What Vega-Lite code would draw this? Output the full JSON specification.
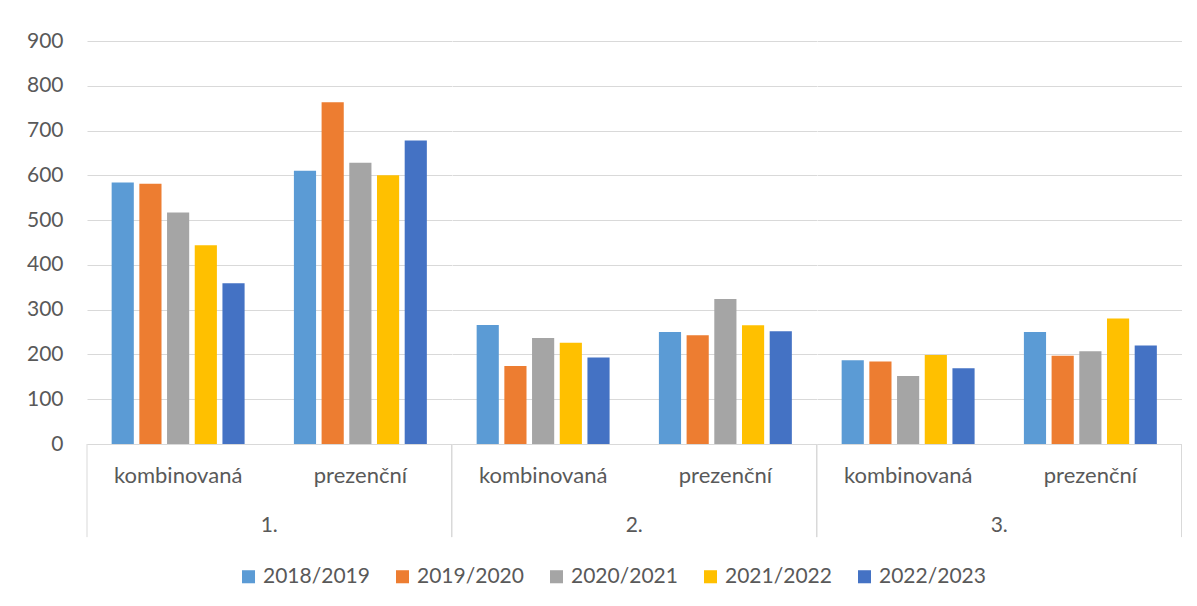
{
  "$schema": "https://vega.github.io/schema/vega-lite/v6.json",
  "background": "white",
  "autosize": {"type": "pad"},
  "padding": {"left": 26, "top": 30, "right": 5, "bottom": 5},
  "bounds": "flush",
  "data": {"values": [
    {"rocnik": "1.", "forma": "kombinovaná", "rok": "2018/2019", "pocet": 584},
    {"rocnik": "1.", "forma": "kombinovaná", "rok": "2019/2020", "pocet": 581},
    {"rocnik": "1.", "forma": "kombinovaná", "rok": "2020/2021", "pocet": 517},
    {"rocnik": "1.", "forma": "kombinovaná", "rok": "2021/2022", "pocet": 444},
    {"rocnik": "1.", "forma": "kombinovaná", "rok": "2022/2023", "pocet": 359},
    {"rocnik": "1.", "forma": "prezenční", "rok": "2018/2019", "pocet": 610},
    {"rocnik": "1.", "forma": "prezenční", "rok": "2019/2020", "pocet": 763},
    {"rocnik": "1.", "forma": "prezenční", "rok": "2020/2021", "pocet": 628},
    {"rocnik": "1.", "forma": "prezenční", "rok": "2021/2022", "pocet": 600},
    {"rocnik": "1.", "forma": "prezenční", "rok": "2022/2023", "pocet": 678},
    {"rocnik": "2.", "forma": "kombinovaná", "rok": "2018/2019", "pocet": 266},
    {"rocnik": "2.", "forma": "kombinovaná", "rok": "2019/2020", "pocet": 174},
    {"rocnik": "2.", "forma": "kombinovaná", "rok": "2020/2021", "pocet": 237},
    {"rocnik": "2.", "forma": "kombinovaná", "rok": "2021/2022", "pocet": 226},
    {"rocnik": "2.", "forma": "kombinovaná", "rok": "2022/2023", "pocet": 193},
    {"rocnik": "2.", "forma": "prezenční", "rok": "2018/2019", "pocet": 250},
    {"rocnik": "2.", "forma": "prezenční", "rok": "2019/2020", "pocet": 243},
    {"rocnik": "2.", "forma": "prezenční", "rok": "2020/2021", "pocet": 324},
    {"rocnik": "2.", "forma": "prezenční", "rok": "2021/2022", "pocet": 265},
    {"rocnik": "2.", "forma": "prezenční", "rok": "2022/2023", "pocet": 252},
    {"rocnik": "3.", "forma": "kombinovaná", "rok": "2018/2019", "pocet": 187},
    {"rocnik": "3.", "forma": "kombinovaná", "rok": "2019/2020", "pocet": 184},
    {"rocnik": "3.", "forma": "kombinovaná", "rok": "2020/2021", "pocet": 152},
    {"rocnik": "3.", "forma": "kombinovaná", "rok": "2021/2022", "pocet": 199},
    {"rocnik": "3.", "forma": "kombinovaná", "rok": "2022/2023", "pocet": 169},
    {"rocnik": "3.", "forma": "prezenční", "rok": "2018/2019", "pocet": 250},
    {"rocnik": "3.", "forma": "prezenční", "rok": "2019/2020", "pocet": 197},
    {"rocnik": "3.", "forma": "prezenční", "rok": "2020/2021", "pocet": 207},
    {"rocnik": "3.", "forma": "prezenční", "rok": "2021/2022", "pocet": 280},
    {"rocnik": "3.", "forma": "prezenční", "rok": "2022/2023", "pocet": 220}
  ]},
  "facet": {
    "column": {
      "field": "rocnik",
      "type": "ordinal",
      "header": {
        "title": null,
        "labelOrient": "bottom",
        "labelFont": "Lato",
        "labelFontSize": 21,
        "labelColor": "#595959",
        "labelPadding": 71
      }
    }
  },
  "spacing": 0,
  "resolve": {"scale": {"x": "shared"}, "axis": {"x": "independent"}},
  "spec": {
    "width": 364.5,
    "height": 403,
    "layer": [
      {
        "mark": {"type": "bar"},
        "encoding": {
          "x": {
            "field": "forma",
            "type": "nominal",
            "scale": {"paddingInner": 0, "paddingOuter": 0},
            "axis": {
              "title": null,
              "labelAngle": 0,
              "ticks": false,
              "domain": true,
              "domainColor": "#d9d9d9",
              "labelPadding": 21,
              "labelFont": "Lato",
              "labelFontSize": 22,
              "labelColor": "#595959"
            }
          },
          "xOffset": {
            "field": "rok",
            "type": "nominal",
            "scale": {"paddingInner": 0.2, "paddingOuter": 0.89}
          },
          "y": {
            "field": "pocet",
            "type": "quantitative",
            "scale": {"domain": [0, 900]},
            "axis": {
              "title": null,
              "values": [0, 100, 200, 300, 400, 500, 600, 700, 800, 900],
              "domain": false,
              "ticks": false,
              "grid": true,
              "gridColor": "#d9d9d9",
              "labelPadding": 24,
              "labelFont": "Lato",
              "labelFontSize": 21,
              "labelColor": "#595959"
            }
          },
          "color": {
            "field": "rok",
            "type": "nominal",
            "scale": {
              "domain": ["2018/2019", "2019/2020", "2020/2021", "2021/2022", "2022/2023"],
              "range": ["#5B9BD5", "#ED7D31", "#A5A5A5", "#FFC000", "#4472C4"]
            },
            "legend": {
              "title": null,
              "orient": "none",
              "direction": "horizontal",
              "legendX": 151,
              "legendY": 525,
              "symbolType": "square",
              "symbolSize": 170,
              "symbolStrokeWidth": 0,
              "symbolOpacity": 1,
              "labelFont": "Lato",
              "labelFontSize": 21,
              "labelColor": "#595959",
              "labelOffset": 4,
              "columnPadding": 22
            }
          }
        }
      },
      {
        "transform": [{"filter": "datum.rok == '2018/2019' && datum.forma == 'kombinovaná'"}],
        "mark": {"type": "rule", "color": "#d9d9d9", "strokeWidth": 1},
        "encoding": {
          "x": {"datum": "kombinovaná", "type": "nominal", "bandPosition": 0},
          "y": {"datum": 0, "type": "quantitative"},
          "y2": {"datum": -208}
        }
      },
      {
        "transform": [{"filter": "datum.rok == '2018/2019' && datum.forma == 'kombinovaná'"}],
        "mark": {"type": "rule", "color": "#d9d9d9", "strokeWidth": 1},
        "encoding": {
          "x": {"datum": "prezenční", "type": "nominal", "bandPosition": 1},
          "y": {"datum": 0, "type": "quantitative"},
          "y2": {"datum": -208}
        }
      }
    ]
  },
  "config": {
    "view": {"stroke": null},
    "font": "Lato"
  }
}
